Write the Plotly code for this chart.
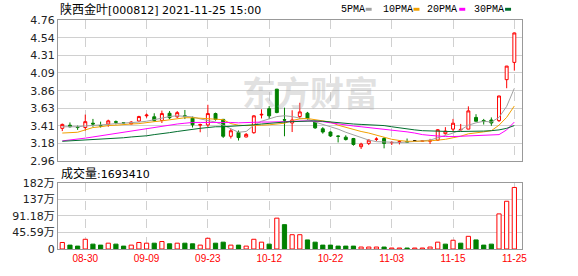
import plotly.graph_objects as go

# ---------------- data ----------------
dates = ["08-25", "08-26", "08-27", "08-30", "08-31", "09-01", "09-02", "09-03", "09-06", "09-07",
         "09-08", "09-09", "09-10", "09-13", "09-14", "09-15", "09-16", "09-17", "09-22", "09-23",
         "09-24", "09-27", "09-28", "09-29", "09-30", "10-08", "10-11", "10-12", "10-13", "10-14",
         "10-15", "10-18", "10-19", "10-20", "10-21", "10-22", "10-25", "10-26", "10-27", "10-28",
         "10-29", "11-01", "11-02", "11-03", "11-04", "11-05", "11-08", "11-09", "11-10", "11-11",
         "11-12", "11-15", "11-16", "11-17", "11-18", "11-19", "11-22", "11-23", "11-24", "11-25"]

open_ = [3.38, 3.42, 3.395, 3.39, 3.445, 3.415, 3.435, 3.465, 3.452, 3.436,
         3.473, 3.54, 3.527, 3.48, 3.572, 3.527, 3.54, 3.51, 3.42, 3.423,
         3.568, 3.494, 3.279, 3.328, 3.27, 3.324, 3.55, 3.63, 3.879, 3.49,
         3.448, 3.531, 3.573, 3.465, 3.374, 3.333, 3.282, 3.267, 3.25, 3.146,
         3.188, 3.24, 3.25, 3.197, 3.20, 3.21, 3.221, 3.215, 3.215, 3.229,
         3.312, 3.37, 3.36, 3.37, 3.519, 3.48, 3.486, 3.478, 4.00, 4.22]
high = [3.44, 3.455, 3.415, 3.555, 3.50, 3.465, 3.49, 3.48, 3.46, 3.47,
        3.54, 3.568, 3.572, 3.606, 3.60, 3.60, 3.614, 3.53, 3.44, 3.68,
        3.58, 3.50, 3.374, 3.353, 3.32, 3.548, 3.622, 3.663, 3.882, 3.643,
        3.61, 3.705, 3.589, 3.477, 3.395, 3.34, 3.29, 3.291, 3.258, 3.196,
        3.24, 3.266, 3.27, 3.217, 3.229, 3.25, 3.23, 3.23, 3.246, 3.37,
        3.395, 3.50, 3.436, 3.66, 3.56, 3.50, 3.519, 3.795, 4.175, 4.60]
low = [3.345, 3.39, 3.36, 3.35, 3.40, 3.39, 3.40, 3.43, 3.44, 3.43,
       3.465, 3.515, 3.465, 3.448, 3.498, 3.51, 3.498, 3.39, 3.33, 3.395,
       3.478, 3.258, 3.25, 3.225, 3.265, 3.312, 3.506, 3.498, 3.572, 3.279,
       3.333, 3.498, 3.49, 3.374, 3.312, 3.27, 3.20, 3.225, 3.159, 3.117,
       3.167, 3.217, 3.125, 3.167, 3.175, 3.20, 3.21, 3.21, 3.18, 3.22,
       3.30, 3.337, 3.35, 3.37, 3.47, 3.428, 3.412, 3.461, 3.891, 4.115]
close = [3.43, 3.40, 3.39, 3.465, 3.435, 3.41, 3.475, 3.458, 3.45, 3.46,
         3.53, 3.548, 3.48, 3.568, 3.515, 3.58, 3.532, 3.425, 3.428, 3.568,
         3.494, 3.279, 3.349, 3.262, 3.303, 3.539, 3.558, 3.539, 3.581, 3.485,
         3.486, 3.589, 3.506, 3.386, 3.333, 3.283, 3.278, 3.237, 3.175, 3.179,
         3.229, 3.243, 3.188, 3.20, 3.21, 3.205, 3.221, 3.222, 3.225, 3.362,
         3.345, 3.445, 3.366, 3.602, 3.47, 3.466, 3.448, 3.792, 4.173, 4.595]

ma5 = [3.40, 3.40, 3.40, 3.41, 3.415, 3.42, 3.43, 3.44, 3.445, 3.45,
       3.46, 3.47, 3.49, 3.51, 3.53, 3.54, 3.535, 3.525, 3.50, 3.48,
       3.46, 3.42, 3.37, 3.33, 3.34, 3.42, 3.47, 3.50, 3.53, 3.54,
       3.53, 3.51, 3.50, 3.46, 3.43, 3.40, 3.37, 3.33, 3.30, 3.26,
       3.23, 3.21, 3.205, 3.20, 3.20, 3.205, 3.21, 3.22, 3.23, 3.26,
       3.29, 3.32, 3.36, 3.42, 3.45, 3.47, 3.46, 3.52, 3.66, 3.89]
ma10 = [3.32, 3.325, 3.33, 3.36, 3.39, 3.40, 3.415, 3.42, 3.43, 3.435,
        3.44, 3.455, 3.465, 3.475, 3.49, 3.50, 3.515, 3.515, 3.51, 3.505,
        3.50, 3.49, 3.44, 3.42, 3.415, 3.415, 3.42, 3.425, 3.435, 3.445,
        3.48, 3.50, 3.505, 3.49, 3.48, 3.46, 3.42, 3.39, 3.37, 3.34,
        3.32, 3.29, 3.26, 3.24, 3.225, 3.215, 3.215, 3.213, 3.22, 3.23,
        3.24, 3.26, 3.28, 3.31, 3.32, 3.335, 3.35, 3.42, 3.52, 3.665]
ma20 = [3.22, 3.23, 3.24, 3.255, 3.27, 3.285, 3.30, 3.32, 3.335, 3.35,
        3.365, 3.38, 3.395, 3.41, 3.42, 3.435, 3.445, 3.455, 3.455, 3.455,
        3.46, 3.46, 3.455, 3.45, 3.455, 3.455, 3.46, 3.46, 3.46, 3.465,
        3.47, 3.475, 3.475, 3.47, 3.465, 3.45, 3.435, 3.42, 3.41, 3.40,
        3.39, 3.38, 3.37, 3.36, 3.35, 3.335, 3.32, 3.30, 3.29, 3.28,
        3.275, 3.275, 3.278, 3.28, 3.283, 3.285, 3.29, 3.30, 3.36, 3.46]
ma30 = [3.215, 3.22, 3.225, 3.23, 3.235, 3.24, 3.245, 3.25, 3.26, 3.27,
        3.275, 3.285, 3.30, 3.31, 3.325, 3.34, 3.355, 3.37, 3.38, 3.39,
        3.40, 3.40, 3.405, 3.41, 3.415, 3.425, 3.435, 3.445, 3.455, 3.46,
        3.465, 3.47, 3.475, 3.475, 3.47, 3.46, 3.45, 3.44, 3.435, 3.43,
        3.425, 3.42, 3.415, 3.40, 3.385, 3.37, 3.36, 3.35, 3.345, 3.34,
        3.338, 3.338, 3.34, 3.34, 3.342, 3.345, 3.35, 3.36, 3.38, 3.415]

# volume in 万 shares
volume = [17.9, 10.7, 8.0, 26.8, 13.4, 10.7, 16.0, 13.4, 8.0, 10.7,
          17.9, 16.0, 16.0, 20.6, 14.3, 16.0, 16.0, 14.3, 10.7, 29.5,
          16.0, 18.8, 10.7, 10.7, 8.0, 26.8, 18.8, 13.4, 84.9, 67.0,
          39.3, 39.3, 25.0, 18.8, 10.7, 10.7, 8.0, 8.0, 8.0, 5.4,
          5.4, 5.4, 5.4, 2.7, 2.7, 2.7, 2.7, 2.7, 5.4, 18.8,
          13.4, 24.1, 16.0, 34.9, 25.0, 10.7, 13.4, 96.6, 131.4, 169.341]
vol_up = [1, 0, 0, 1, 0, 0, 1, 0, 0, 1,
          1, 1, 0, 1, 0, 1, 0, 0, 1, 1,
          0, 0, 1, 0, 1, 1, 1, 0, 1, 0,
          1, 1, 0, 0, 0, 0, 0, 0, 0, 1,
          1, 1, 0, 1, 1, 0, 1, 1, 1, 1,
          0, 1, 0, 1, 0, 0, 0, 1, 1, 1]

tick_dates = ["08-30", "09-09", "09-23", "10-12", "10-22", "11-03", "11-15", "11-25"]
price_ticks = [2.96, 3.185, 3.41, 3.635, 3.86, 4.085, 4.31, 4.535, 4.76]
price_labels = ["2.96", "3.18", "3.41", "3.63", "3.86", "4.09", "4.31", "4.54", "4.76"]
vol_ticks = [0, 45.59, 91.18, 136.77, 182.36]
vol_labels = ["0", "45.59万", "91.18万", "137万", "182万"]

title_name = "陕西金叶"
title_rest = "[000812] 2021-11-25 15:00"
vol_title = "成交量:1693410"
ma_names = ["5PMA", "10PMA", "20PMA", "30PMA"]
watermark = "东方财富"

# ---------------- styles ----------------
RED = "#ff0000"
GREEN = "#008000"
MA_COLORS = ["#a0a0a0", "#f0a000", "#ff00ff", "#006e2e"]
GRID = "#d0d0d0"
BORDER = "#999999"

W, H = 578, 276
ML, MR, MT, MB = 56, 56, 20, 21
PW, PH = W - ML - MR, H - MT - MB


def xp(px):
    return (px - ML) / PW


def yp(py):
    return (H - MB - py) / PH


fig = go.Figure()

# candles (open != close)
idx = [i for i in range(len(dates)) if open_[i] != close[i]]
fig.add_trace(go.Candlestick(
    x=[dates[i] for i in idx], open=[open_[i] for i in idx], high=[high[i] for i in idx],
    low=[low[i] for i in idx], close=[close[i] for i in idx],
    increasing=dict(line=dict(color=RED, width=1), fillcolor="#ffffff"),
    decreasing=dict(line=dict(color=GREEN, width=1), fillcolor=GREEN),
    whiskerwidth=0, xaxis="x", yaxis="y", showlegend=False, hoverinfo="skip"))
# flat candles
fidx = [i for i in range(len(dates)) if open_[i] == close[i]]
if fidx:
    fig.add_trace(go.Candlestick(
        x=[dates[i] for i in fidx], open=[open_[i] for i in fidx], high=[high[i] for i in fidx],
        low=[low[i] for i in fidx], close=[close[i] for i in fidx],
        increasing=dict(line=dict(color="#000000", width=1), fillcolor="#000000"),
        decreasing=dict(line=dict(color="#000000", width=1), fillcolor="#000000"),
        whiskerwidth=0, xaxis="x", yaxis="y", showlegend=False, hoverinfo="skip"))

for name, vals, col in zip(ma_names, [ma5, ma10, ma20, ma30], MA_COLORS):
    fig.add_trace(go.Scatter(x=dates, y=vals, mode="lines", line=dict(color=col, width=1),
                             xaxis="x", yaxis="y", showlegend=False, hoverinfo="skip", name=name))

# volume bars
ui = [i for i in range(len(dates)) if vol_up[i]]
di = [i for i in range(len(dates)) if not vol_up[i]]
fig.add_trace(go.Bar(x=[dates[i] for i in ui], y=[volume[i] for i in ui], width=0.55,
                     marker=dict(color="#ffffff", line=dict(color=RED, width=1)),
                     xaxis="x2", yaxis="y2", showlegend=False, hoverinfo="skip"))
fig.add_trace(go.Bar(x=[dates[i] for i in di], y=[volume[i] for i in di], width=0.55,
                     marker=dict(color=GREEN, line=dict(color=GREEN, width=1)),
                     xaxis="x2", yaxis="y2", showlegend=False, hoverinfo="skip"))

xcommon = dict(type="category", categoryorder="array", categoryarray=dates,
               range=[-0.56, 60.0], tickvals=tick_dates, showgrid=True, gridcolor=GRID,
               griddash="dash", gridwidth=1, showline=True, mirror=True, linecolor=BORDER,
               linewidth=1, zeroline=False, ticks="", fixedrange=True)

fig.update_layout(
    width=W, height=H, margin=dict(l=ML, r=MR, t=MT, b=MB, pad=0),
    paper_bgcolor="#ffffff", plot_bgcolor="#ffffff",
    boxgap=0.45, barmode="overlay", showlegend=False,
    xaxis=dict(**xcommon, anchor="y", showticklabels=False, rangeslider=dict(visible=False)),
    xaxis2=dict(**xcommon, anchor="y2", showticklabels=True,
                tickfont=dict(family="Liberation Sans", size=10, color=RED)),
    yaxis=dict(domain=[yp(165), 1], range=[2.96, 4.76], tickvals=price_ticks, ticktext=price_labels,
               showgrid=True, gridcolor=GRID, showline=True, mirror=True, linecolor=BORDER,
               zeroline=False, ticks="", tickfont=dict(family="DejaVu Sans", size=11, color="#222222"),
               fixedrange=True),
    yaxis2=dict(domain=[0, yp(187)], range=[0, 182.36], tickvals=vol_ticks, ticktext=vol_labels,
                showgrid=True, gridcolor=GRID, showline=True, mirror=True, linecolor=BORDER,
                zeroline=False, ticks="", tickfont=dict(family="DejaVu Sans, Noto Sans CJK SC", size=11, color="#222222"),
                fixedrange=True),
)

ann = []
ann.append(dict(xref="paper", yref="paper", x=xp(56), y=yp(9), xanchor="left", yanchor="middle",
                showarrow=False,
                text="<span style='font-size:12px'>" + title_name + "</span>" + title_rest,
                font=dict(family="DejaVu Sans, Noto Sans CJK SC", size=11, color="#000000")))
ann.append(dict(xref="paper", yref="paper", x=xp(57), y=yp(177.5), xanchor="left", yanchor="middle",
                showarrow=False,
                text="<span style='font-size:12px'>" + vol_title[:3] + "</span>" + vol_title[3:],
                font=dict(family="DejaVu Sans, Noto Sans CJK SC", size=11, color="#000000")))
ann.append(dict(xref="paper", yref="paper", x=xp(309), y=yp(93), xanchor="center", yanchor="middle",
                showarrow=False, text="<b>" + watermark + "</b>",
                font=dict(family="Noto Sans CJK SC", size=34, color="rgba(170,170,170,0.35)")))

legend_x = [338, 380, 425, 472]
swatch_x = [365, 413, 459, 505]
shapes = []
for name, lx, sx, col in zip(ma_names, legend_x, swatch_x, MA_COLORS):
    ann.append(dict(xref="paper", yref="paper", x=xp(lx), y=yp(9), xanchor="left", yanchor="middle",
                    showarrow=False, text=name,
                    font=dict(family="Liberation Mono", size=10, color="#000000")))
    shapes.append(dict(type="rect", xref="paper", yref="paper", x0=xp(sx), x1=xp(sx + 6),
                       y0=yp(10.5), y1=yp(7.5), fillcolor=col, line=dict(width=0)))

fig.update_layout(annotations=ann, shapes=shapes)

fig.write_html("out.html", config=dict(staticPlot=True, displayModeBar=False))
